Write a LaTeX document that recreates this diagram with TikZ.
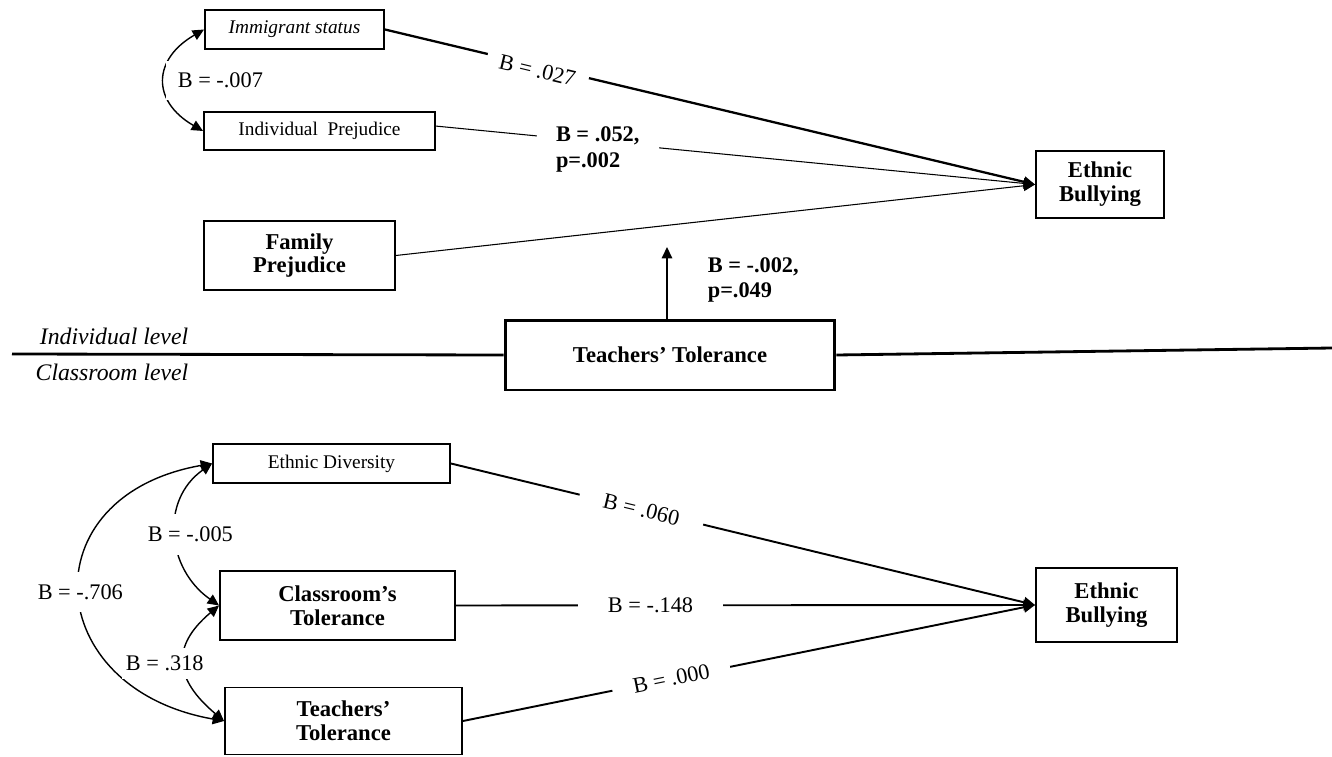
\documentclass[tikz,border=0pt]{standalone}
\usepackage{fontspec}
\setmainfont{Liberation Serif}
\usetikzlibrary{arrows.meta, positioning, calc}

\tikzset{
  thinbox/.style={draw, line width=1.1pt, inner sep=0pt, align=center, font=\fontsize{11}{12}\selectfont},
  boldbox/.style={draw, line width=1.1pt, inner sep=0pt, align=center, font=\fontsize{12.9}{13.6}\selectfont\bfseries},
  coef/.style={fill=white, inner sep=2pt, font=\fontsize{12.7}{13.6}\selectfont},
  coefbold/.style={coef, align=left, font=\fontsize{12.7}{14.7}\selectfont\bfseries},
  lvltext/.style={font=\fontsize{13.5}{14}\selectfont\itshape},
  cov/.style={<->, line width=0.8pt}
}

\begin{document}
\begin{tikzpicture}[x=0.02cm, y=0.02cm, >={Triangle[length=6.5pt,width=6pt]}]
\useasboundingbox (0,0) rectangle (1332,-757);

% Individual level
\node[thinbox, minimum width=3.58cm, minimum height=0.78cm, font=\fontsize{11}{12}\selectfont\itshape] (imm) at (294.5,-29.5) {Immigrant status};
\node[thinbox, minimum width=4.62cm, minimum height=0.76cm] (indiv) at (319.5,-131) {Individual\ \ Prejudice};
\node[boldbox, minimum width=3.82cm, minimum height=1.38cm] (fam) at (299.5,-255.5) {Family\\Prejudice};
\node[boldbox, minimum width=2.56cm, minimum height=1.34cm] (eb1) at (1100,-184.5) {Ethnic\\Bullying};

\draw[->, line width=1.3pt] (imm.east) -- node[coef, sloped, pos=0.236, yshift=-2.5pt, inner xsep=7.4pt] {B = .027} (eb1.west);
\draw[->, line width=0.6pt] ([yshift=2.8pt]indiv.east) -- node[coefbold, pos=0.27, yshift=-4.5pt, inner xsep=11pt] {B = .052,\\p=.002} (eb1.west);
\draw[->, line width=0.6pt] (fam.east) -- (eb1.west);
\draw[cov] (imm.west) to[out=210, in=150, looseness=1.5] node[coef, anchor=west, inner xsep=7pt, inner ysep=6.8pt] {B = -.007} (indiv.west);

% Teachers' tolerance moderates
\node[boldbox, line width=1.7pt, minimum width=6.6cm, minimum height=1.4cm] (tt) at (670,-355) {Teachers’ Tolerance};
\coordinate (modtip) at (667,-247);
\draw[->, line width=0.8pt] (tt.north -| modtip) -- (modtip);
\node[coefbold, fill=none, anchor=west] (modlbl) at (704,-280) {B = -.002,\\p=.049};

% Level split
\coordinate (lvlL) at (12,-354);
\coordinate (lvlR) at (1332,-348);
\draw[line width=1.6pt] (lvlL) -- (tt.west);
\draw[line width=1.6pt] (tt.east) -- (lvlR);
\node[lvltext] (indlvl) at (114,-336) {Individual level};
\node[lvltext] (clslvl) at (112,-372) {Classroom level};

% Classroom level
\node[thinbox, minimum width=4.74cm, minimum height=0.78cm] (ed) at (331.5,-463.5) {Ethnic Diversity};
\node[boldbox, minimum width=4.7cm, minimum height=1.38cm] (ct) at (337.5,-605.5) {Classroom’s\\Tolerance};
\node[boldbox, minimum width=4.74cm, minimum height=1.34cm] (tt2) at (343.5,-721) {Teachers’\\Tolerance};
\node[boldbox, minimum width=2.82cm, minimum height=1.48cm] (eb2) at (1106.5,-605) {Ethnic\\Bullying};

\draw[->, line width=1.1pt] (ed.east) -- node[coef, sloped, pos=0.326, inner xsep=14pt] {B = .060} (eb2.west);
\draw[->, line width=1.1pt] (ct.east) -- node[coef, pos=0.336, inner xsep=17pt] {B = -.148} (eb2.west);
\draw[->, line width=1.1pt] (tt2.east) -- node[coef, sloped, pos=0.364, inner xsep=12pt] {B = .000} (eb2.west);

\draw[cov] (ed.west) to[out=190, in=170, looseness=1.85] node[coef, inner xsep=2pt, inner ysep=7pt] {B = -.706} (tt2.west);
\draw[cov] (ed.west) to[out=215, in=145, looseness=1.15] node[coef, xshift=8pt, inner xsep=2pt, inner ysep=7.4pt] {B = -.005} (ct.west);
\draw[cov] (ct.west) to[out=220, in=140, looseness=1.42] node[coef, xshift=-11.3pt, inner xsep=2pt, inner ysep=4.5pt] {B = .318} (tt2.west);
\end{tikzpicture}
\end{document}
